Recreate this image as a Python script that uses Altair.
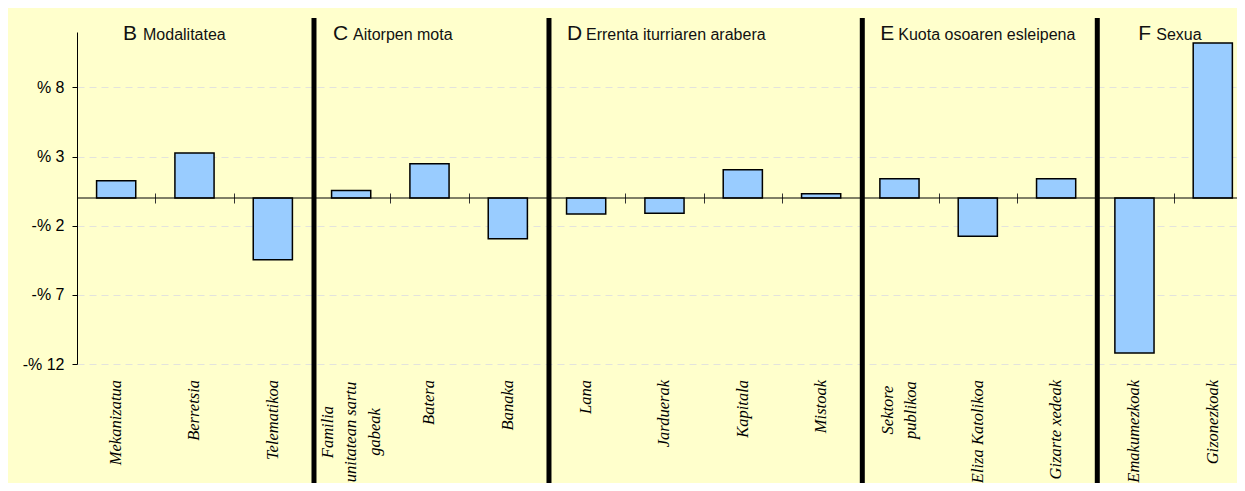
import altair as alt
import pandas as pd

# ---- data ----
groups = ["B", "B", "B", "C", "C", "C", "D", "D", "D", "D", "E", "E", "E", "F", "F"]
categories = [
    "Mekanizatua", "Berretsia", "Telematikoa",
    "Familia unitatean sartu gabeak", "Batera", "Banaka",
    "Lana", "Jarduerak", "Kapitala", "Mistoak",
    "Sektore publikoa", "Eliza Katolikoa", "Gizarte xedeak",
    "Emakumezkoak", "Gizonezkoak",
]
label_text = [
    "Mekanizatua", "Berretsia", "Telematikoa",
    "Familia\nunitatean sartu\ngabeak", "Batera", "Banaka",
    "Lana", "Jarduerak", "Kapitala", "Mistoak",
    "Sektore\npublikoa", "Eliza Katolikoa", "Gizarte xedeak",
    "Emakumezkoak", "Gizonezkoak",
]
values = [1.25, 3.25, -4.46, 0.55, 2.48, -2.94, -1.16, -1.11, 2.05, 0.31,
          1.40, -2.77, 1.40, -11.21, 11.2]
group_letters = ["B", "C", "D", "E", "F"]
group_names = ["Modalitatea", "Aitorpen mota", "Errenta iturriaren arabera",
               "Kuota osoaren esleipena", "Sexua"]
y_ticks = [-12, -7, -2, 3, 8]

# ---- tables ----
n = len(categories)
df = pd.DataFrame({"cat": categories, "grp": groups, "value": values,
                   "label": label_text, "i": list(range(n))})
first_idx = [groups.index(g) for g in group_letters]
titles = pd.DataFrame({"i": first_idx, "letter": group_letters, "name": group_names})
dividers = pd.DataFrame({"i": first_idx[1:]})

# ---- layout constants ----
W, H = 1160, 332
STEP = 78.33  # px per category slot
SANS = "Liberation Sans"
SERIF = "Liberation Serif"

x_scale = alt.Scale(domain=[0, W / STEP], nice=False, zero=False, padding=0)
x_axis = alt.Axis(orient="bottom", offset=-171, domain=False, labels=False, ticks=True,
                  values=list(range(n + 1)), tickSize=10, tickColor="#333333",
                  tickWidth=1, grid=False, title=None)
y_scale = alt.Scale(domain=[-12, 12], nice=False, zero=False, padding=0)
y_axis = alt.Axis(values=y_ticks,
                  labelExpr="datum.value < 0 ? '-% ' + abs(datum.value) : '% ' + datum.value",
                  grid=True, gridDash=[7, 5], gridColor="#E3E3DC", gridWidth=1,
                  domainColor="black", domainWidth=1, tickColor="black", tickSize=5,
                  labelFont=SANS, labelFontSize=16, labelColor="black", labelPadding=8,
                  title=None)


def X(field):
    return alt.X(field, type="quantitative", scale=x_scale, axis=x_axis)


base = alt.Chart(df).transform_calculate(
    x0="datum.i + 0.25", x1="datum.i + 0.75", xc="datum.i + 0.5"
)

bars = base.mark_bar(fill="#99CCFF", stroke="black", strokeWidth=1.5).encode(
    x=X("x0"),
    x2=alt.X2("x1"),
    y=alt.Y("value:Q", scale=y_scale, axis=y_axis),
    y2=alt.datum(0),
)

zero = alt.Chart(pd.DataFrame({"z": [0]})).mark_rule(color="black", strokeWidth=1).encode(
    y=alt.Y("z:Q", scale=y_scale, axis=y_axis)
)

div = alt.Chart(dividers).mark_rule(color="black", strokeWidth=5, xOffset=2).encode(
    x=X("i"),
    y=alt.value(-14),
    y2=alt.value(455),
)

single = base.transform_filter("indexof(datum.label, '\\n') < 0").mark_text(
    angle=270, align="right", baseline="middle", font=SERIF, fontStyle="italic",
    fontSize=16.5, color="black"
).encode(x=X("xc"), y=alt.value(348), text="label:N")

multi_layers = []
for cat, ypx, shift in [("Familia unitatean sartu gabeak", 400, -23.5),
                        ("Sektore publikoa", 378, -11.75)]:
    multi_layers.append(
        base.transform_filter(alt.datum.cat == cat).mark_text(
            angle=270, align="center", baseline="middle", font=SERIF, fontStyle="italic",
            fontSize=16.5, color="black", lineBreak="\n", lineHeight=23.5, dy=shift
        ).encode(x=X("xc"), y=alt.value(ypx), text="label:N")
    )

# title offsets (pixels from group's left boundary)
letter_dx = {"B": 46, "C": 21, "D": 20, "E": 20, "F": 43}
name_dx = {"B": 66, "C": 41, "D": 39, "E": 38, "F": 61}
title_layers = []
for g in group_letters:
    tsrc = alt.Chart(titles).transform_filter(alt.datum.letter == g)
    title_layers.append(
        tsrc.mark_text(align="left", baseline="alphabetic", font=SANS, fontSize=21,
                       color="#111111", dx=letter_dx[g]).encode(
            x=X("i"), y=alt.value(8), text="letter:N")
    )
    title_layers.append(
        tsrc.mark_text(align="left", baseline="alphabetic", font=SANS, fontSize=16,
                       color="#111111", dx=name_dx[g]).encode(
            x=X("i"), y=alt.value(8), text="name:N")
    )

chart = alt.layer(bars, zero, div, single, *multi_layers, *title_layers).properties(
    width=W, height=H,
    autosize=alt.AutoSizeParams(type="none"),
    padding={"left": 69, "top": 24, "right": 0, "bottom": 119},
    background="#FFFFCC",
).configure_view(strokeWidth=0)

chart.save("out.html", embed_options={"renderer": "svg", "actions": False})
